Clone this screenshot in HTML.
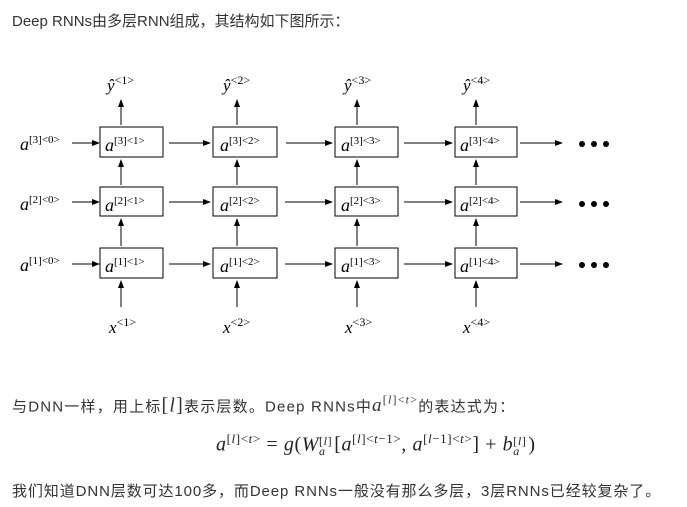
<!DOCTYPE html>
<html><head><meta charset="utf-8"><style>
body{margin:0;background:#fff;width:687px;height:507px;position:relative;overflow:hidden;font-family:"Liberation Sans","Noto Sans CJK SC",sans-serif;color:#333;}
.t{position:absolute;left:12px;font-size:15px;white-space:nowrap}
svg{position:absolute;left:0;top:0}
svg text{font-family:"Liberation Serif",serif;font-style:italic;fill:#000}
.m{font-family:"Liberation Serif",serif}
.ss{display:inline-block;vertical-align:middle;line-height:10px;font-size:12px;text-align:left;margin-right:2px}
</style></head><body>
<div class="t" style="top:10px">Deep RNNs由多层RNN组成，其结构如下图所示：</div>
<svg width="687" height="380" viewBox="0 0 687 380">
<defs><marker id="ah" markerWidth="8" markerHeight="8" refX="7" refY="4" orient="auto" markerUnits="userSpaceOnUse"><path d="M0,1 L8,4 L0,7z" fill="#000"/></marker></defs>
<g stroke="#000" stroke-width="1" fill="none">
<rect x="100" y="127" width="63" height="30"/><rect x="213" y="127" width="64" height="30"/><rect x="335" y="127" width="63" height="30"/><rect x="455" y="127" width="62" height="30"/>
<rect x="100" y="187" width="63" height="29"/><rect x="213" y="187" width="64" height="29"/><rect x="335" y="187" width="63" height="29"/><rect x="455" y="187" width="62" height="29"/>
<rect x="100" y="248" width="63" height="30"/><rect x="213" y="248" width="64" height="30"/><rect x="335" y="248" width="63" height="30"/><rect x="455" y="248" width="62" height="30"/>
</g>
<g stroke="#000" stroke-width="1" marker-end="url(#ah)">
<line x1="121" y1="125" x2="121" y2="100"/><line x1="237" y1="125" x2="237" y2="100"/><line x1="357" y1="125" x2="357" y2="100"/><line x1="476" y1="125" x2="476" y2="100"/>
<line x1="121" y1="185" x2="121" y2="160"/><line x1="237" y1="185" x2="237" y2="160"/><line x1="357" y1="185" x2="357" y2="160"/><line x1="476" y1="185" x2="476" y2="160"/>
<line x1="121" y1="246" x2="121" y2="219"/><line x1="237" y1="246" x2="237" y2="219"/><line x1="357" y1="246" x2="357" y2="219"/><line x1="476" y1="246" x2="476" y2="219"/>
<line x1="121" y1="307" x2="121" y2="281"/><line x1="237" y1="307" x2="237" y2="281"/><line x1="357" y1="307" x2="357" y2="281"/><line x1="476" y1="307" x2="476" y2="281"/>
<line x1="72" y1="143" x2="99" y2="143"/><line x1="72" y1="202" x2="99" y2="202"/><line x1="72" y1="264" x2="99" y2="264"/>
<line x1="169" y1="143" x2="210" y2="143"/><line x1="169" y1="202" x2="210" y2="202"/><line x1="169" y1="264" x2="210" y2="264"/>
<line x1="286" y1="143" x2="332" y2="143"/><line x1="285" y1="202" x2="332" y2="202"/><line x1="285" y1="264" x2="332" y2="264"/>
<line x1="404" y1="143" x2="452" y2="143"/><line x1="404" y1="202" x2="452" y2="202"/><line x1="404" y1="264" x2="452" y2="264"/>
<line x1="520" y1="143" x2="562" y2="143"/><line x1="520" y1="202" x2="562" y2="202"/><line x1="520" y1="264" x2="562" y2="264"/>
</g>
<g fill="#000"><circle cx="582" cy="144" r="3"/><circle cx="594" cy="144" r="3"/><circle cx="606" cy="144" r="3"/>
<circle cx="582" cy="204" r="3"/><circle cx="594" cy="204" r="3"/><circle cx="606" cy="204" r="3"/>
<circle cx="582" cy="265" r="3"/><circle cx="594" cy="265" r="3"/><circle cx="606" cy="265" r="3"/></g>
<g font-size="17">
<text x="107" y="91">ŷ<tspan font-size="12" font-style="normal" dy="-7">&lt;1&gt;</tspan></text>
<text x="223" y="91">ŷ<tspan font-size="12" font-style="normal" dy="-7">&lt;2&gt;</tspan></text>
<text x="344" y="91">ŷ<tspan font-size="12" font-style="normal" dy="-7">&lt;3&gt;</tspan></text>
<text x="463" y="91">ŷ<tspan font-size="12" font-style="normal" dy="-7">&lt;4&gt;</tspan></text>
<text x="109" y="333">x<tspan font-size="12" font-style="normal" dy="-7">&lt;1&gt;</tspan></text>
<text x="223" y="333">x<tspan font-size="12" font-style="normal" dy="-7">&lt;2&gt;</tspan></text>
<text x="345" y="333">x<tspan font-size="12" font-style="normal" dy="-7">&lt;3&gt;</tspan></text>
<text x="463" y="333">x<tspan font-size="12" font-style="normal" dy="-7">&lt;4&gt;</tspan></text>
</g>
<g font-size="18">
<text x="20" y="150">a<tspan font-size="11" font-style="normal" dy="-7">[3]&lt;0&gt;</tspan></text>
<text x="20" y="210">a<tspan font-size="11" font-style="normal" dy="-7">[2]&lt;0&gt;</tspan></text>
<text x="20" y="271">a<tspan font-size="11" font-style="normal" dy="-7">[1]&lt;0&gt;</tspan></text>
<text x="105" y="151">a<tspan font-size="11" font-style="normal" dy="-7">[3]&lt;1&gt;</tspan></text>
<text x="220" y="151">a<tspan font-size="11" font-style="normal" dy="-7">[3]&lt;2&gt;</tspan></text>
<text x="341" y="151">a<tspan font-size="11" font-style="normal" dy="-7">[3]&lt;3&gt;</tspan></text>
<text x="460" y="151">a<tspan font-size="11" font-style="normal" dy="-7">[3]&lt;4&gt;</tspan></text>
<text x="105" y="211">a<tspan font-size="11" font-style="normal" dy="-7">[2]&lt;1&gt;</tspan></text>
<text x="220" y="211">a<tspan font-size="11" font-style="normal" dy="-7">[2]&lt;2&gt;</tspan></text>
<text x="341" y="211">a<tspan font-size="11" font-style="normal" dy="-7">[2]&lt;3&gt;</tspan></text>
<text x="460" y="211">a<tspan font-size="11" font-style="normal" dy="-7">[2]&lt;4&gt;</tspan></text>
<text x="105" y="272">a<tspan font-size="11" font-style="normal" dy="-7">[1]&lt;1&gt;</tspan></text>
<text x="220" y="272">a<tspan font-size="11" font-style="normal" dy="-7">[1]&lt;2&gt;</tspan></text>
<text x="341" y="272">a<tspan font-size="11" font-style="normal" dy="-7">[1]&lt;3&gt;</tspan></text>
<text x="460" y="272">a<tspan font-size="11" font-style="normal" dy="-7">[1]&lt;4&gt;</tspan></text>
</g>
</svg>
<div class="t" style="top:393px;letter-spacing:1.2px">与DNN一样，用上标<span class="m" style="font-size:20px">[<i>l</i>]</span>表示层数。Deep RNNs中<span class="m" style="font-size:19px"><i>a</i><sup style="font-size:12px">[<i>l</i>]&lt;<i>t</i>&gt;</sup></span>的表达式为：</div>
<div class="m" style="position:absolute;left:216px;top:431px;font-size:20px;white-space:nowrap;color:#222;letter-spacing:0.6px"><i>a</i><sup style="font-size:13px">[<i>l</i>]&lt;<i>t</i>&gt;</sup> = <i>g</i>(<i>W</i><span class="ss"><span>[<i>l</i>]</span><br><i>a</i></span>[<i>a</i><sup style="font-size:13px">[<i>l</i>]&lt;<i>t</i>−1&gt;</sup>, <i>a</i><sup style="font-size:13px">[<i>l</i>−1]&lt;<i>t</i>&gt;</sup>] + <i>b</i><span class="ss"><span>[<i>l</i>]</span><br><i>a</i></span>)</div>
<div class="t" style="top:480px;letter-spacing:0.9px">我们知道DNN层数可达100多，而Deep RNNs一般没有那么多层，3层RNNs已经较复杂了。</div>
</body></html>
